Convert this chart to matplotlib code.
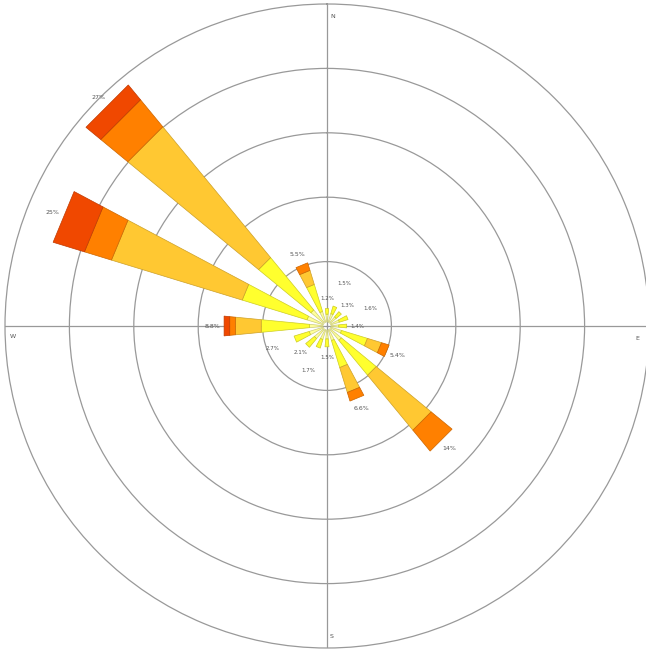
import numpy as np
import matplotlib
matplotlib.use("Agg")
import matplotlib.pyplot as plt
from matplotlib.colors import to_rgb

# Wind directions (clockwise from north)
directions = ["N", "NNE", "NE", "ENE", "E", "ESE", "SE", "SSE",
              "S", "SSW", "SW", "WSW", "W", "WNW", "NW", "NNW"]

# Frequency (%) per speed class, stacked outward from the centre
speed_light  = [0.7, 0.8, 0.7, 0.8, 0.7, 1.0, 1.3, 1.0, 0.8, 0.9, 1.1, 1.3, 1.2, 1.5, 1.5, 1.0]
speed_low    = [0.5, 0.7, 0.6, 0.8, 0.7, 2.4, 4.0, 2.5, 0.7, 0.8, 1.0, 1.4, 4.3, 6.0, 6.0, 2.5]
speed_mid    = [0.0, 0.0, 0.0, 0.0, 0.0, 1.3, 6.3, 2.3, 0.0, 0.0, 0.0, 0.0, 2.3, 12.1, 15.0, 1.3]
speed_high   = [0.0, 0.0, 0.0, 0.0, 0.0, 0.7, 2.4, 0.8, 0.0, 0.0, 0.0, 0.0, 0.5, 2.5, 3.1, 0.7]
speed_strong = [0.0, 0.0, 0.0, 0.0, 0.0, 0.0, 0.0, 0.0, 0.0, 0.0, 0.0, 0.0, 0.5, 2.9, 1.7, 0.0]

class_colors = ["#FFFF99", "#FFFF2E", "#FFC832", "#FF8000", "#F04800"]

rings = [5.7, 11.4, 17.1, 22.8]
r_max = 28.5
cardinals = ["N", "E", "S", "W"]

series = [speed_light, speed_low, speed_mid, speed_high, speed_strong]
totals = np.sum(np.array(series), axis=0)

fig = plt.figure(figsize=(6.46, 6.53), dpi=100)
ax = fig.add_axes([5 / 646, 5 / 653, 644 / 646, 644 / 653], projection="polar")
ax.set_theta_zero_location("N")
ax.set_theta_direction(-1)
ax.set_ylim(0, r_max)

theta = np.deg2rad(np.arange(len(directions)) * 22.5)
half = np.deg2rad(5.5)

ax.set_xticks([])
ax.set_yticks(rings)
ax.set_yticklabels([])
ax.yaxis.grid(True, color="#999999", lw=0.9)
ax.xaxis.grid(False)
ax.spines["polar"].set_color("#999999")
ax.spines["polar"].set_linewidth(0.9)

# Cross lines through the centre
for ang in np.deg2rad([0, 90, 180, 270]):
    ax.plot([ang, ang], [0, r_max], color="#999999", lw=0.9, zorder=1)


def darker(c, f=0.8):
    r, g, b = to_rgb(c)
    return (r * f, g * f, b * f)


# Stacked wedges with straight outer edges
bottom = np.full(len(directions), 0.35)
for vals, col in zip(series, class_colors):
    for th, b, v in zip(theta, bottom, vals):
        if v <= 0:
            continue
        ax.fill([th - half, th - half, th + half, th + half],
                [b, b + v, b + v, b],
                facecolor=col, edgecolor=darker(col), linewidth=0.5, zorder=3)
    bottom = bottom + np.array(vals)

# Percentage labels beyond bar ends; short spokes alternate radius to stay legible
for i, (th, tot) in enumerate(zip(theta, totals)):
    txt = f"{tot:.0f}%" if tot >= 10 else f"{tot:.1f}%"
    if tot < 3:
        r_lab = tot + 0.35 + (0.9 if i % 2 == 0 else 2.2)
        fs = 4.0
    else:
        r_lab = tot + 0.35 + 1.0
        fs = 4.5
    ax.text(th, r_lab, txt, fontsize=fs, color="#555555",
            ha="center", va="center", zorder=4)

# Cardinal labels just inside the outer circle
offsets_px = {"N": (6, -12), "E": (-12, -12), "S": (5, 12), "W": (8, -10)}
for name, ang in zip(cardinals, [0, 90, 180, 270]):
    dx, dy = offsets_px[name]
    ax.annotate(name, xy=(np.deg2rad(ang), r_max), xytext=(dx * 0.72, dy * 0.72),
                textcoords="offset points", fontsize=4.5, color="#555555",
                ha="center", va="center", zorder=4, annotation_clip=False)

ax.set_facecolor("white")
fig.savefig("out.png", dpi=100, facecolor="white")
